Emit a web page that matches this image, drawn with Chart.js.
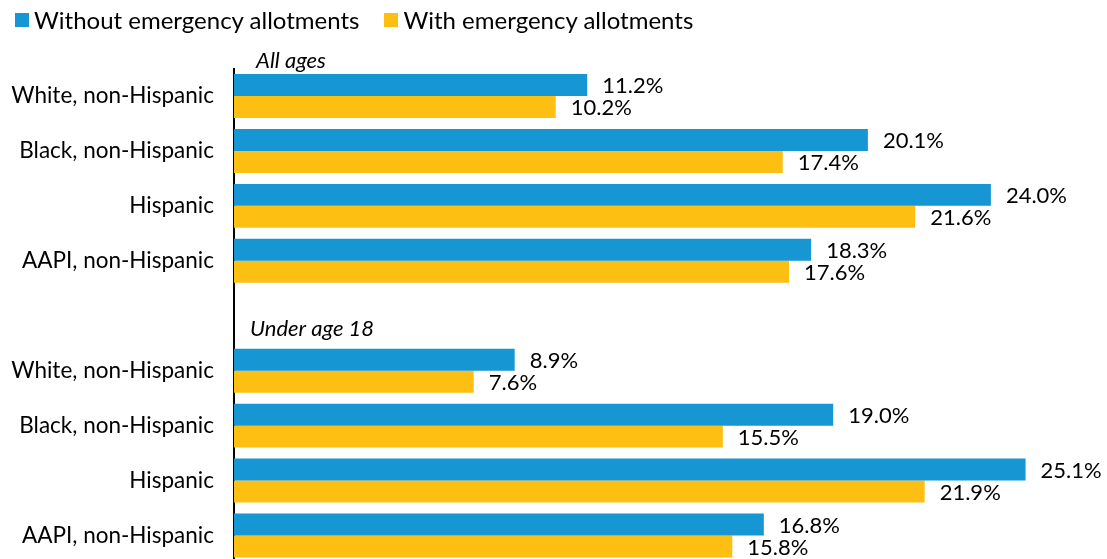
<!DOCTYPE html>
<html lang="en">
<head>
  <meta charset="UTF-8">
  <title>Food insufficiency by race and ethnicity</title>
  <script src="https://cdn.jsdelivr.net/npm/chart.js"></script>
  <style>
    body {
      margin: 0;
      overflow: hidden;
      background: #fff;
      font-family: Lato, sans-serif;
    }
    #wrap {
      position: relative;
      width: 1107px;
      height: 570px;
    }
    #legend {
      position: absolute;
      left: 15px;
      top: 5px;
      font-size: 24px;
      line-height: 30px;
      color: #000;
      display: flex;
      gap: 25px;
    }
    #legend span.item {
      display: flex;
      align-items: center;
    }
    #legend span.box {
      width: 14px;
      height: 14px;
      margin-right: 5px;
      display: inline-block;
    }
  </style>
</head>
<body>
  <div id="wrap">
    <div id="legend"></div>
    <canvas id="myChart"></canvas>
  </div>

  <script>
    // Categories; the empty one is the spacer between the two groups
    const categories = [
      'White, non-Hispanic', 'Black, non-Hispanic', 'Hispanic', 'AAPI, non-Hispanic',
      '',
      'White, non-Hispanic', 'Black, non-Hispanic', 'Hispanic', 'AAPI, non-Hispanic'
    ];
    const withoutAllotments = [11.2, 20.1, 24.0, 18.3, null, 8.9, 19.0, 25.1, 16.8];
    const withAllotments = [10.2, 17.4, 21.6, 17.6, null, 7.6, 15.5, 21.9, 15.8];
    const seriesNames = ['Without emergency allotments', 'With emergency allotments'];
    const seriesColors = ['#1696d2', '#fdbf11'];
    const groupLabels = ['All ages', 'Under age 18'];

    // HTML legend
    const legend = document.getElementById('legend');
    seriesNames.forEach((name, i) => {
      const item = document.createElement('span');
      item.className = 'item';
      const box = document.createElement('span');
      box.className = 'box';
      box.style.background = seriesColors[i];
      item.appendChild(box);
      item.appendChild(document.createTextNode(name));
      legend.appendChild(item);
    });

    // value labels at the end of each bar, plus group headings
    const annotations = {
      id: 'annotations',
      afterDatasetsDraw(chart) {
        const ctx = chart.ctx;
        ctx.save();
        ctx.fillStyle = '#000';
        ctx.font = '22px Lato';
        ctx.textBaseline = 'middle';
        ctx.textAlign = 'left';
        chart.data.datasets.forEach((ds, di) => {
          chart.getDatasetMeta(di).data.forEach((bar, i) => {
            const v = ds.data[i];
            if (v == null) return;
            ctx.fillText(v.toFixed(1) + '%', bar.x + 15, bar.y + 1);
          });
        });
        const area = chart.chartArea;
        const y = chart.scales.y;
        ctx.font = 'italic 22px Lato';
        ctx.fillText(groupLabels[0], area.left + 22, area.top - 8);
        ctx.fillText(groupLabels[1], area.left + 16, y.getPixelForValue(4) + 13);
        ctx.restore();
      }
    };

    const ctx = document.getElementById('myChart').getContext('2d');
    new Chart(ctx, {
      type: 'bar',
      data: {
        labels: categories,
        datasets: [
          {
            label: seriesNames[0],
            data: withoutAllotments,
            backgroundColor: seriesColors[0],
            barPercentage: 1.0,
            categoryPercentage: 0.8
          },
          {
            label: seriesNames[1],
            data: withAllotments,
            backgroundColor: seriesColors[1],
            barPercentage: 1.0,
            categoryPercentage: 0.8
          }
        ]
      },
      options: {
        indexAxis: 'y',
        responsive: true,
        maintainAspectRatio: false,
        animation: false,
        layout: {
          padding: { top: 68.5, right: 21.5, bottom: 7, left: 0 }
        },
        plugins: {
          legend: { display: false },
          tooltip: { enabled: false }
        },
        scales: {
          x: {
            display: false,
            min: 0,
            max: 27
          },
          y: {
            grid: { display: false, drawTicks: false },
            border: { display: true, color: '#000', width: 2 },
            ticks: {
              color: '#000',
              font: { family: 'Lato', size: 22.5 },
              padding: 20
            },
            afterFit(scale) {
              scale.width = 234;
              // don't let the tick padding eat into the plot height
              scale.paddingTop = 0;
              scale.paddingBottom = 0;
            }
          }
        }
      },
      plugins: [annotations]
    });
  </script>
</body>
</html>
